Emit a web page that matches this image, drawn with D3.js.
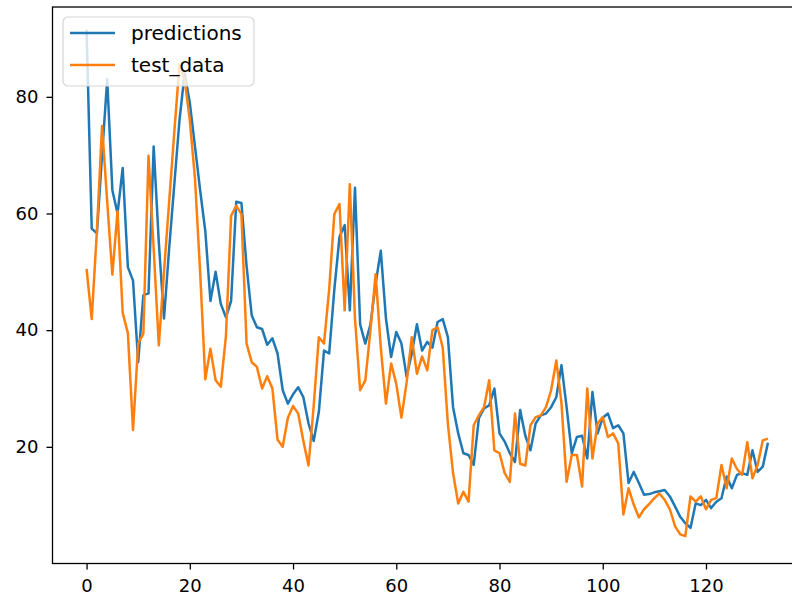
<!DOCTYPE html>
<html>
<head>
<meta charset="utf-8">
<script src="https://cdn.jsdelivr.net/npm/d3@7"></script>
<style>
  html, body { margin: 0; padding: 0; background: #fff; }
  svg { display: block; font-family: "DejaVu Sans", sans-serif; }
</style>
</head>
<body>
<div id="chart"></div>
<script>
// values (index 0..132)
var predictions = [
  91.5, 57.4, 56.6, 70, 83, 64, 60, 67.8, 50.8, 48.5,
  34.5, 46, 46.3, 71.5, 55, 42, 54, 65, 76, 84,
  79, 71.5, 64, 57, 45, 50, 44.5, 42.2, 45, 62,
  61.8, 51, 42.5, 40.5, 40.2, 37.5, 38.6, 36, 29.7, 27.4,
  29, 30.2, 28.5, 24, 21, 26, 36.5, 36, 47, 56,
  58, 43.4, 64.4, 41, 37.7, 41, 48, 53.6, 42, 35.4,
  39.7, 37.7, 32, 36, 41, 36.5, 38, 37, 41.4, 41.9,
  38.8, 26.8, 22.3, 18.9, 18.6, 16.9, 24.9, 26.6, 27.1, 30,
  22.3, 20.9, 18.9, 17.4, 26.3, 21.9, 19.4, 24, 25.4, 25.7,
  26.8, 28.5, 34, 26.8, 18.9, 21.7, 21.9, 18, 29.4, 22.3,
  25, 25.7, 23.2, 23.7, 22.3, 13.8, 15.7, 13.8, 11.8, 11.9,
  12.2, 12.4, 12.6, 11.5, 9.8, 8, 6.9, 6.1, 10.3, 10,
  10.9, 9.5, 10.6, 11.2, 14.9, 12.9, 15.2, 15.5, 15.2, 19.4,
  15.7, 16.6, 20.7
];
var test_data = [
  50.5, 41.9, 57, 75, 62, 49.5, 60.4, 43, 39.5, 22.9,
  37.7, 39.4, 69.9, 54, 37.4, 50, 62, 74, 85.5, 83,
  76, 66, 50, 31.6, 36.8, 31.4, 30.3, 39, 59.6, 61.3,
  59.9, 37.7, 34.5, 33.7, 30, 32.1, 30, 21.2, 20, 25,
  27, 25.7, 21, 16.8, 27, 38.8, 37.7, 47, 59.9, 61.6,
  43.4, 65, 42, 29.7, 31.4, 40, 49.6, 37, 27.4, 34.3,
  30.8, 25, 31, 38.8, 32.5, 35.5, 33.1, 40, 40.5, 37,
  23.9, 15.5, 10.3, 12.3, 10.6, 23.7, 25.4, 26.8, 31.4, 19.4,
  18.9, 15.5, 14, 25.7, 17.1, 16.8, 23.7, 25.1, 25.4, 26.8,
  29.7, 34.8, 27.5, 14, 18.6, 18.6, 13.2, 30, 18, 24,
  25.1, 21.7, 22.3, 20.6, 8.4, 12.9, 10.1, 7.9, 9.3, 10.2,
  11.2, 12, 10.9, 9.3, 6.4, 5, 4.7, 11.5, 10.6, 11.5,
  9.3, 10.9, 11.2, 16.9, 12.9, 18, 16.2, 15.2, 20.8, 14.6,
  16.9, 21.1, 21.4
];
var seriesNames = ["predictions", "test_data"];
var xTicks = [0, 20, 40, 60, 80, 100, 120];
var yTicks = [20, 40, 60, 80];

var W = 792, H = 601;
var margin = {left: 52.5, top: 7, right: -10, bottom: 37.5};
var plotW = W - margin.left - margin.right,
    plotH = H - margin.top - margin.bottom;
var colors = ["#1f77b4", "#ff7f0e"];
var fontSize = 18, legendFontSize = 20;

var n = test_data.length;
var x = d3.scaleLinear().domain([-0.05 * (n - 1), (n - 1) * 1.05]).range([0, plotW]);
var y = d3.scaleLinear().domain([0, 95.4]).range([plotH, 0]);

var svg = d3.select("#chart").append("svg")
  .attr("width", W)
  .attr("height", H);

svg.append("defs").append("clipPath").attr("id", "clip")
  .append("rect").attr("width", plotW).attr("height", plotH);

var g = svg.append("g")
  .attr("transform", "translate(" + margin.left + "," + margin.top + ")");

// lines
var line = d3.line()
  .x(function(d, i) { return x(i); })
  .y(function(d) { return y(d); });

var plotArea = g.append("g").attr("clip-path", "url(#clip)");
[predictions, test_data].forEach(function(s, k) {
  plotArea.append("path")
    .datum(s)
    .attr("d", line)
    .attr("fill", "none")
    .attr("stroke", colors[k])
    .attr("stroke-width", 2.5)
    .attr("stroke-linejoin", "round");
});

// axes
var xAxis = g.append("g")
  .attr("transform", "translate(0," + plotH + ")")
  .call(d3.axisBottom(x).tickValues(xTicks).tickSize(6).tickPadding(10).tickSizeOuter(0));
var yAxis = g.append("g")
  .call(d3.axisLeft(y).tickValues(yTicks).tickSize(6).tickPadding(8).tickSizeOuter(0));

[xAxis, yAxis].forEach(function(a) {
  a.select(".domain").remove();
  a.selectAll(".tick line").attr("stroke", "#000").attr("stroke-width", 1.3);
  a.selectAll(".tick text")
    .attr("fill", "#000")
    .style("font-size", fontSize + "px")
    .style("font-family", "'DejaVu Sans', sans-serif");
});

// spines (right one falls outside the picture)
g.append("rect")
  .attr("x", 0).attr("y", 0)
  .attr("width", plotW).attr("height", plotH)
  .attr("fill", "none")
  .attr("stroke", "#000")
  .attr("stroke-width", 1.3);

// legend
var legend = g.append("g").attr("transform", "translate(" + (63 - margin.left) + "," + (17 - margin.top) + ")");
legend.append("rect")
  .attr("width", 191).attr("height", 69)
  .attr("rx", 5).attr("ry", 5)
  .attr("fill", "#fff").attr("fill-opacity", 0.8)
  .attr("stroke", "#d6d6d6").attr("stroke-width", 1.2);

seriesNames.forEach(function(name, k) {
  var row = legend.append("g").attr("transform", "translate(0," + (16 + k * 32) + ")");
  row.append("line")
    .attr("x1", 7).attr("x2", 52)
    .attr("y1", 0).attr("y2", 0)
    .attr("stroke", colors[k]).attr("stroke-width", 2.5);
  row.append("text")
    .attr("x", 68).attr("y", 0).attr("dy", "0.36em")
    .style("font-size", legendFontSize + "px")
    .attr("fill", "#000")
    .text(name);
});
</script>
</body>
</html>
